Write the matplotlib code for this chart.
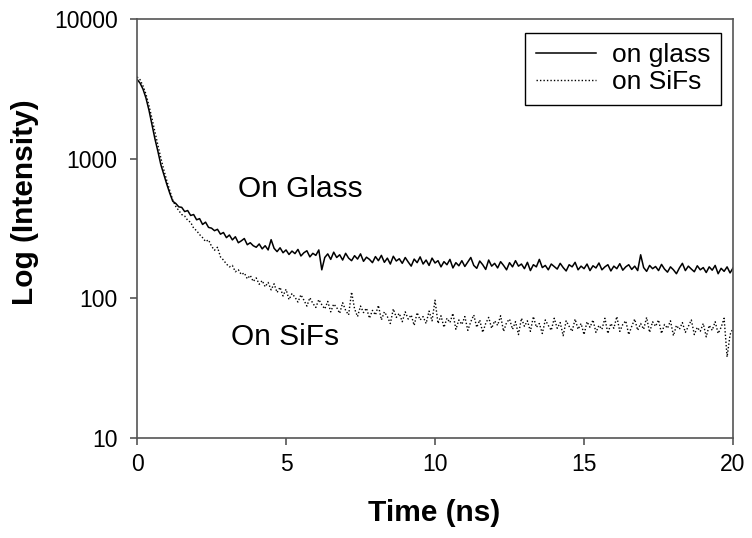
import numpy as np
import matplotlib
matplotlib.use('Agg')
import matplotlib.pyplot as plt

# time axis, 0.1 ns steps
time_ns = np.round(np.arange(0, 201) * 0.1, 1)

on_glass = [
	3700, 3480, 3150, 2720, 2230, 1760, 1390, 1130, 905, 770,
	655, 565, 495, 478, 452, 448, 418, 425, 392, 398,
	365, 372, 338, 351, 322, 318, 305, 312, 288, 296,
	272, 284, 262, 276, 250, 258, 268, 242, 250, 238,
	232, 245, 226, 238, 222, 263, 228, 216, 230, 212,
	222, 206, 218, 209, 224, 201, 212, 219, 198, 210,
	203, 222, 160, 196, 208, 190, 214, 196, 205, 188,
	210, 194, 186, 202, 191, 208, 184, 197, 190, 180,
	199, 186, 203, 181, 194, 176, 200, 185, 192, 178,
	196, 182, 170, 191, 180, 198, 176, 188, 172, 194,
	179, 186, 168, 183, 174, 190, 165, 180, 171, 186,
	169, 182, 196, 172, 164, 185, 174, 161, 188, 170,
	178, 165, 183, 172, 160, 180, 168, 186, 170, 176,
	163, 181, 158, 174, 168, 190, 166, 172, 160, 176,
	169, 162, 178, 166, 157, 174, 168, 181, 160, 170,
	163, 176, 158, 171, 165, 179, 160, 168, 174, 157,
	170, 163, 177, 159, 168, 174, 161, 170, 158, 205,
	166, 156, 172, 163, 169, 158, 175, 162, 154, 168,
	160, 150, 165, 178, 158, 170, 162, 155, 171, 160,
	166, 153, 168, 159, 172, 150, 164, 156, 168, 152,
	165,
]

on_sifs = [
	3850, 3680, 3320, 2900, 2400, 1950, 1560, 1250, 1010, 830,
	695, 590, 505, 455, 425, 398, 388, 362, 350, 318,
	305, 286, 272, 255, 262, 236, 221, 232, 198, 188,
	176, 168, 172, 155, 160, 148, 152, 138, 146, 132,
	140, 126, 134, 121, 130, 115, 127, 110, 120, 104,
	116, 98, 108, 102, 94, 106, 97, 88, 101, 92,
	86, 98, 90, 84, 95, 80, 91, 86, 78, 93,
	82, 76, 111, 84, 74, 88, 79, 85, 72, 82,
	76, 89, 70, 80, 74, 66, 84, 73, 78, 68,
	80, 71, 76, 64, 79, 70, 74, 66, 81, 69,
	97, 66, 75, 62, 72, 67, 78, 60, 70, 65,
	74, 59, 68, 76, 62, 70, 57, 66, 73, 61,
	69, 64, 75, 58, 67, 71, 60, 68, 55, 72,
	63, 69, 58, 74, 62, 66, 56, 70, 64, 59,
	72, 61, 67, 54, 69, 63, 58, 71, 60, 66,
	55, 68, 62, 70, 57, 64, 60, 72, 56, 66,
	61, 74, 58, 65, 69, 55, 63, 71, 59, 66,
	60, 73, 57, 68, 63, 70, 56, 65, 61, 69,
	54, 64, 60, 67, 57, 63, 70, 55, 62, 58,
	66, 53, 64, 59, 68, 56, 62, 72, 38, 55,
	61,
]

y_ticks = [10, 100, 1000, 10000]
x_ticks = [0, 5, 10, 15, 20]

plt.rcParams['font.family'] = ['Liberation Sans', 'DejaVu Sans']

fig = plt.figure(figsize=(7.52, 5.38), dpi=100)
ax = fig.add_axes([0.1822, 0.1859, 0.7926, 0.7788])

ax.plot(time_ns, on_glass, color='black', lw=1.1, label='on glass')
ax.plot(time_ns, on_sifs, color='black', lw=1.0, ls=(0, (1, 1.5)), label='on SiFs')

ax.set_yscale('log')
ax.set_ylim(10, 10000)
ax.set_xlim(0, 20)
ax.set_yticks(y_ticks)
ax.set_yticklabels([str(v) for v in y_ticks])
ax.minorticks_off()
ax.set_xticks(x_ticks)
ax.set_xticklabels([str(v) for v in x_ticks])

for s in ax.spines.values():
	s.set_color('#555555')
	s.set_linewidth(1.2)
ax.tick_params(direction='out', length=5, width=1.2, color='#555555',
	labelsize=16.5)
ax.tick_params(axis='x', pad=6)
ax.tick_params(axis='y', pad=9)

ax.set_xlabel('Time (ns)', fontsize=21.5, fontweight='bold')
ax.set_ylabel('Log (Intensity)', fontsize=21.5, fontweight='bold')
ax.xaxis.set_label_coords(0.498, -0.145)
ax.yaxis.set_label_coords(-0.165, 0.563)

ax.text(3.39, 607, 'On Glass', fontsize=21.5, ha='left', va='center')
ax.text(3.15, 52.8, 'On SiFs', fontsize=21.5, ha='left', va='center')

leg = ax.legend(loc='upper right', bbox_to_anchor=(0.98, 0.967), borderaxespad=0,
	fontsize=19, fancybox=False, framealpha=1, handlelength=2.3,
	handletextpad=0.6, labelspacing=0.1, borderpad=0.4)
leg.get_frame().set_edgecolor('black')
leg.get_frame().set_linewidth(1.0)

fig.savefig('out.png', dpi=100)
